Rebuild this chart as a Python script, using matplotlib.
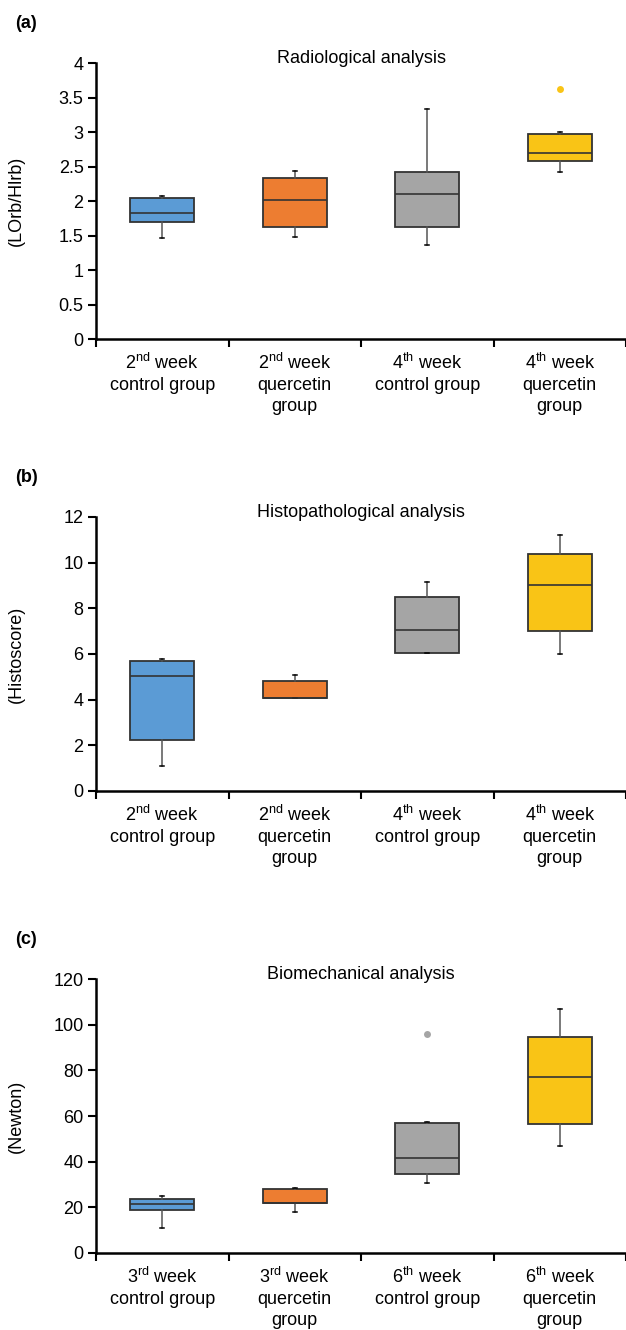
import matplotlib.pyplot as plt

plt.rcParams['font.family'] = ['Liberation Sans', 'DejaVu Sans']
plt.rcParams['mathtext.fontset'] = 'custom'
plt.rcParams['mathtext.rm'] = 'Liberation Sans'

colors = ['#5B9BD5', '#ED7D31', '#A5A5A5', '#F9C416']

labels_a = ['2$^{\\mathrm{nd}}$ week\ncontrol group', '2$^{\\mathrm{nd}}$ week\nquercetin\ngroup',
            '4$^{\\mathrm{th}}$ week\ncontrol group', '4$^{\\mathrm{th}}$ week\nquercetin\ngroup']
labels_c = ['3$^{\\mathrm{rd}}$ week\ncontrol group', '3$^{\\mathrm{rd}}$ week\nquercetin\ngroup',
            '6$^{\\mathrm{th}}$ week\ncontrol group', '6$^{\\mathrm{th}}$ week\nquercetin\ngroup']

# Radiological analysis
rad_low = [1.46, 1.48, 1.36, 2.42]
rad_q1 = [1.70, 1.63, 1.63, 2.58]
rad_med = [1.82, 2.02, 2.10, 2.70]
rad_q3 = [2.04, 2.34, 2.42, 2.97]
rad_high = [2.07, 2.43, 3.33, 3.00]
rad_out = [[], [], [], [3.62]]

# Histopathological analysis
his_low = [1.1, 4.05, 6.05, 6.0]
his_q1 = [2.25, 4.05, 6.05, 7.0]
his_med = [5.05, 4.05, 7.05, 9.0]
his_q3 = [5.7, 4.82, 8.5, 10.4]
his_high = [5.8, 5.1, 9.15, 11.2]
his_out = [[], [], [], []]

# Biomechanical analysis
bio_low = [11, 18, 30.5, 47]
bio_q1 = [19, 22, 34.5, 56.5]
bio_med = [21.5, 22, 41.5, 77]
bio_q3 = [23.5, 28, 57, 94.5]
bio_high = [25, 28.5, 57.5, 107]
bio_out = [[], [], [96], []]

panels = [
    ('(a)', 'Radiological analysis', '(LOrb/Hlrb)', labels_a,
     (rad_low, rad_q1, rad_med, rad_q3, rad_high, rad_out),
     [0, 0.5, 1, 1.5, 2, 2.5, 3, 3.5, 4], ['0', '0.5', '1', '1.5', '2', '2.5', '3', '3.5', '4'],
     [0.9526, 0.2075]),
    ('(b)', 'Histopathological analysis', '(Histoscore)', labels_a,
     (his_low, his_q1, his_med, his_q3, his_high, his_out),
     [0, 2, 4, 6, 8, 10, 12], ['0', '2', '4', '6', '8', '10', '12'],
     [0.6113, 0.2060]),
    ('(c)', 'Biomechanical analysis', '(Newton)', labels_c,
     (bio_low, bio_q1, bio_med, bio_q3, bio_high, bio_out),
     [0, 20, 40, 60, 80, 100, 120], ['0', '20', '40', '60', '80', '100', '120'],
     [0.2639, 0.2060]),
]

fig = plt.figure(figsize=(6.26, 13.3), dpi=100)

for tag, title, ylabel, xlabels, data, yticks, yticklabels, (top, h) in panels:
    ax = fig.add_axes([0.1534, top - h, 0.8466, h])
    low, q1, med, q3, high, out = data
    stats = []
    for i in range(4):
        stats.append(dict(whislo=low[i], q1=q1[i], med=med[i], q3=q3[i],
                          whishi=high[i], fliers=out[i]))
    bp = ax.bxp(stats, positions=[1, 2, 3, 4], widths=0.48, patch_artist=True,
                capwidths=0.03,
                boxprops=dict(edgecolor='#333333', linewidth=1.3),
                medianprops=dict(color='#333333', linewidth=1.2),
                whiskerprops=dict(color='#555555', linewidth=1.1),
                capprops=dict(color='black', linewidth=1.1),
                flierprops=dict(marker='o', markersize=5, markeredgewidth=0))
    for i, patch in enumerate(bp['boxes']):
        patch.set_facecolor(colors[i])
        bp['fliers'][i].set_markerfacecolor(colors[i])

    ax.set_xlim(0.5, 4.5)
    ax.set_ylim(yticks[0], yticks[-1])
    ax.set_yticks(yticks)
    ax.set_yticklabels(yticklabels)
    ax.set_xticks([0.5, 1.5, 2.5, 3.5, 4.5])
    ax.set_xticklabels([])
    ax.set_xticks([1, 2, 3, 4], minor=True)
    ax.set_xticklabels(xlabels, minor=True, fontsize=13, linespacing=1.3)
    ax.tick_params(axis='x', which='minor', length=0, pad=10)
    ax.tick_params(axis='x', which='major', length=6, width=1.5, direction='out')
    ax.tick_params(axis='y', length=6, width=1.5, labelsize=13, pad=3)
    for s in ['top', 'right']:
        ax.spines[s].set_visible(False)
    for s in ['left', 'bottom']:
        ax.spines[s].set_linewidth(1.8)
    ax.spines['bottom'].set_clip_on(False)
    ax.set_ylabel(ylabel, fontsize=13, labelpad=14)
    ax.yaxis.set_label_coords(-0.135, 0.5)
    ax.text(0.5, 1.015, title, transform=ax.transAxes, ha='center', va='center',
            fontsize=13)
    fig.text(0.024, top + 0.03, tag, fontsize=13, fontweight='bold', ha='left',
             va='center')

fig.savefig('out.png', dpi=100)
